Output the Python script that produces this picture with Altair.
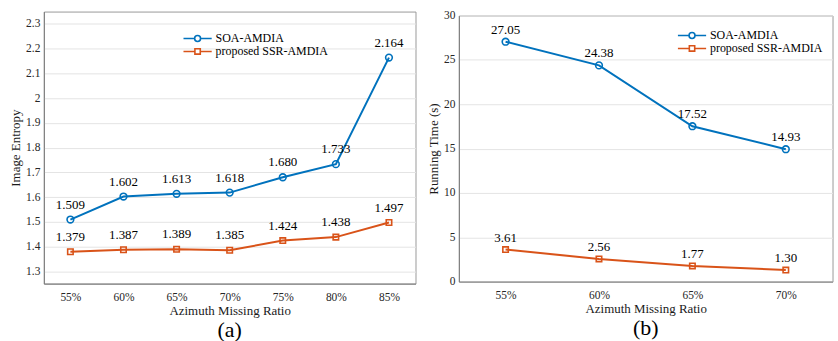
import altair as alt
import pandas as pd

# Panel (a): image entropy versus azimuth missing ratio
ratio_a = ["55%", "60%", "65%", "70%", "75%", "80%", "85%"]
soa_entropy = [1.509, 1.602, 1.613, 1.618, 1.680, 1.733, 2.164]
ssr_entropy = [1.379, 1.387, 1.389, 1.385, 1.424, 1.438, 1.497]

# Panel (b): running time versus azimuth missing ratio
ratio_b = ["55%", "60%", "65%", "70%"]
soa_time = [27.05, 24.38, 17.52, 14.93]
ssr_time = [3.61, 2.56, 1.77, 1.30]

methods = ["SOA-AMDIA", "proposed SSR-AMDIA"]
colors = ["#0072BD", "#D95319"]
markers = ["circle", "square"]
marker_sizes = [45, 30]
FONT = "Liberation Serif, Times New Roman, Times, serif"

# legend glyphs: a short line with the series marker in its middle
LINE_CIRCLE = ("M-3,0H-0.63M0.63,0H3"
               "M-0.63,0A0.63,0.63,0,1,1,0.63,0A0.63,0.63,0,1,1,-0.63,0")
LINE_SQUARE = "M-3,0H-0.57M0.57,0H3M-0.57,-0.57H0.57V0.57H-0.57Z"


def long_table(xs, a, b):
    rows = []
    for name, vals in zip(methods, [a, b]):
        for x, v in zip(xs, vals):
            rows.append({"ratio": x, "value": v, "method": name})
    return pd.DataFrame(rows)


def panel(df, xs, title_y, domain, ticks, fmt, label_fmt, dy, legend_xy, w, h, tag):
    legend = alt.Legend(
        title=None,
        orient="none",
        legendX=legend_xy[0],
        legendY=legend_xy[1],
        symbolSize=89,
        symbolStrokeWidth=1.6,
        symbolFillColor="transparent",
        labelFont=FONT,
        labelFontSize=12,
        labelColor="#000000",
        labelOffset=12,
        rowPadding=-2,
        padding=0,
    )
    color_scale = alt.Scale(domain=methods, range=colors)
    color = alt.Color("method:N", scale=color_scale, legend=legend)
    x = alt.X(
        "ratio:O",
        sort=xs,
        scale=alt.Scale(type="point", padding=0.5),
        axis=alt.Axis(title="Azimuth Missing Ratio", labelAngle=0,
                      labelFont=FONT, titleFont=FONT),
    )
    y = alt.Y(
        "value:Q",
        scale=alt.Scale(domain=domain, nice=False, zero=False),
        axis=alt.Axis(title=title_y, values=ticks, format=fmt,
                      labelFont=FONT, titleFont=FONT),
    )
    base = alt.Chart(df).encode(x=x, y=y)
    lines = base.mark_line(strokeWidth=2).encode(color=color)
    point_layers = [
        base.transform_filter(alt.datum.method == m)
        .mark_point(filled=False, strokeWidth=1.6, size=sz, opacity=1, shape=shp)
        .encode(color=color)
        for m, shp, sz in zip(methods, markers, marker_sizes)
    ]
    # empty layer that only carries the legend glyphs (line + marker)
    key = base.transform_filter("false").mark_point(filled=False, opacity=1).encode(
        color=color,
        shape=alt.Shape("method:N",
                        scale=alt.Scale(domain=methods, range=[LINE_CIRCLE, LINE_SQUARE]),
                        legend=legend),
    )
    labels = base.mark_text(font=FONT, fontSize=13, dy=dy, color="#000000").encode(
        text=alt.Text("value:Q", format=label_fmt)
    )
    return alt.layer(lines, *point_layers, labels, key).properties(
        width=w,
        height=h,
        title=alt.TitleParams(tag, orient="bottom", font=FONT, fontSize=22,
                              fontWeight="normal", color="#000000", offset=3),
    )


left = panel(
    long_table(ratio_a, soa_entropy, ssr_entropy), ratio_a, "Image Entropy",
    [1.25, 2.35], [1.3, 1.4, 1.5, 1.6, 1.7, 1.8, 1.9, 2.0, 2.1, 2.2, 2.3],
    ".1~f", ".3f", -15, (148.3, 21), 373, 273, "(a)",
)
right = panel(
    long_table(ratio_b, soa_time, ssr_time), ratio_b, "Running Time (s)",
    [0, 30], [0, 5, 10, 15, 20, 25, 30],
    "d", ".2f", -12, (228, 18), 375, 267, "(b)",
)

# blank strip that sets panel (b) slightly lower than panel (a)
strip = (
    alt.Chart(pd.DataFrame({"v": [0]}))
    .mark_point(opacity=0)
    .encode(x=alt.X("v:Q", axis=None), y=alt.Y("v:Q", axis=None))
    .properties(width=375, height=1, view=alt.ViewBackground(stroke="transparent"))
)

chart = (
    alt.hconcat(left, alt.vconcat(strip, right, spacing=-7.1), spacing=10.5)
    .resolve_scale(color="independent", shape="independent")
    .resolve_legend(color="independent", shape="independent")
    .properties(padding={"left": 9, "top": 8, "right": 5, "bottom": 0}, background="white")
    .configure_axis(
        labelFont=FONT,
        titleFont=FONT,
        labelFontSize=11.5,
        titleFontSize=13,
        titleFontWeight="normal",
        labelColor="#262626",
        titleColor="#1a1a1a",
        domainColor="#7a7a7a",
        gridColor="#e4e4e4",
        ticks=False,
    )
    .configure_axisX(labelPadding=8, titlePadding=1.5)
    .configure_axisY(labelPadding=4, titlePadding=3)
    .configure_view(stroke="#9a9a9a", strokeWidth=1)
)

chart.save("out.html", embed_options={"renderer": "svg", "actions": False})
